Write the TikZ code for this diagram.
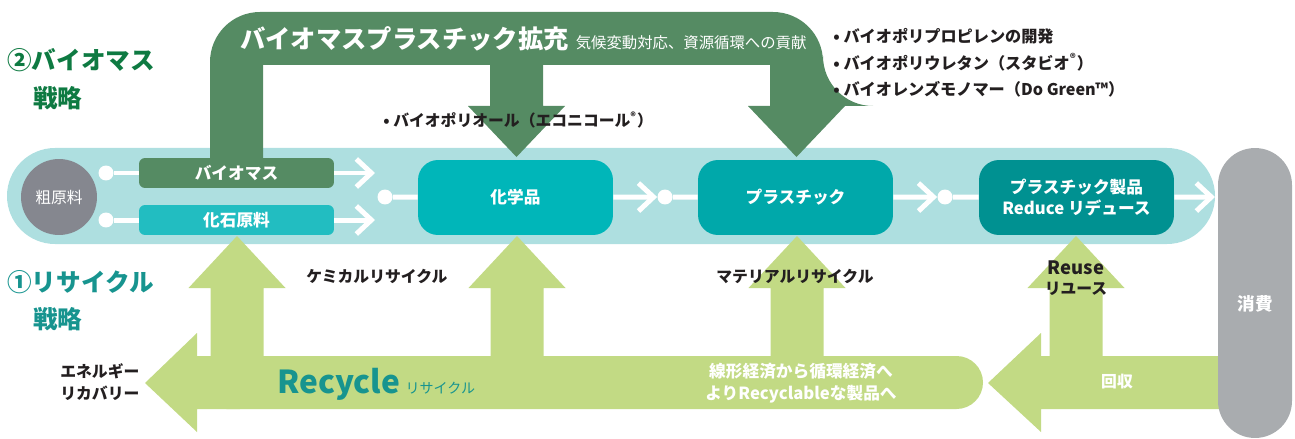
\documentclass[tikz,border=0pt]{standalone}
\usepackage{fontspec}
\setmainfont{Noto Sans CJK JP}
\usetikzlibrary{arrows.meta,positioning}

\definecolor{bandblue}{HTML}{AEDFE0}
\definecolor{biogreen}{HTML}{558B63}
\definecolor{fossilteal}{HTML}{22BDC1}
\definecolor{chemteal}{HTML}{00B6B9}
\definecolor{plasteal}{HTML}{00A8AA}
\definecolor{prodteal}{HTML}{009191}
\definecolor{recgreen}{HTML}{C2DA84}
\definecolor{consgray}{HTML}{A9ACAF}
\definecolor{rawgray}{HTML}{85878F}
\definecolor{headgreen}{HTML}{0E7A42}
\definecolor{headteal}{HTML}{17948F}
\definecolor{inkblack}{HTML}{231F20}

\begin{document}
\begin{tikzpicture}[
    x=0.02cm, y=-0.02cm,
    every node/.style={inner sep=0pt},
    box/.style={rounded corners=0.4cm, minimum width=3.9cm, minimum height=1.5cm, align=center, text=white, font=\bfseries\fontsize{9.5}{11.5}\selectfont},
    slim/.style={box, rounded corners=0.12cm, minimum height=0.6cm},
    dot/.style={circle, fill=white, minimum size=0.3cm},
    wline/.style={white, line width=1mm},
    warrow/.style={wline, -{Straight Barb[length=3mm,width=5.6mm]}},
    note/.style={text=inkblack, font=\bfseries\fontsize{9}{11}\selectfont},
    head/.style={anchor=base west, font=\bfseries\fontsize{14}{16}\selectfont}
  ]
    \useasboundingbox (0,0) rectangle (1295,439);

    % flow band
    \fill[bandblue, rounded corners=0.96cm] (7,148) rectangle (1215,244);

    % recycle arrows
    \fill[recgreen, rounded corners=0.53cm] (200,356) rectangle (983,409);
    \fill[recgreen] (145,383) -- (197,333) -- (197,356) -- (240,356) -- (240,409) -- (197,409) -- (197,432) -- cycle;
    \fill[recgreen] (988,383) -- (1041,333) -- (1041,356) -- (1225,356) -- (1225,409) -- (1041,409) -- (1041,432) -- cycle;
    \foreach \cx in {237,517,797,1076}
      \fill[recgreen] (\cx-26.5,360) -- (\cx-26.5,288) -- (\cx-48.5,288) -- (\cx,236)
        -- (\cx+48.5,288) -- (\cx+26.5,288) -- (\cx+26.5,360) -- cycle;

    % biomass plastics arrow
    \fill[biogreen] (210,160) [rounded corners=1cm] -- (210,12) -- (823,12) -- (823,106) [sharp corners]
      -- (845,106) -- (796.5,157) -- (748,106) -- (770,106) -- (770,65) -- (543,65) -- (543,106)
      -- (565,106) -- (516.5,157) -- (468,106) -- (490,106) -- (490,65) -- (263,65) -- (263,160) -- cycle;

    % consumption
    \node[fill=consgray, rounded corners=0.74cm, minimum width=1.48cm, minimum height=5.8cm] (cons) at (1255,293) {};
    \node[text=white, font=\bfseries\fontsize{10}{12}\selectfont] (constext) at (1255,304) {消費};

    % nodes on the band
    \node[circle, fill=rawgray, minimum size=1.52cm, text=white, font=\fontsize{9}{11}\selectfont] (raw) at (59,197) {粗原料};
    \node[slim, fill=biogreen] (bio) at (236.5,173) {バイオマス};
    \node[slim, fill=fossilteal] (fossil) at (236.5,220) {化石原料};
    \node[box, fill=chemteal] (chem) at (515.5,197.5) {化学品};
    \node[box, fill=plasteal] (plastic) at (795.5,197.5) {プラスチック};
    \node[box, fill=prodteal] (product) at (1076.5,197.5) {プラスチック製品\\Reduce リデュース};

    \node[dot] (d1) at (106,173) {};
    \node[dot] (d2) at (106,220) {};
    \node[dot] (d3) at (385,197) {};
    \node[dot] (d4) at (665,197) {};
    \node[dot] (d5) at (945,197) {};
    \coordinate (e1) at (375,173);
    \coordinate (e2) at (375,220);
    \coordinate (e3) at (1215,197);

    \draw[wline] (d1) -- (bio);
    \draw[wline] (d2) -- (fossil);
    \draw[warrow] (bio) -- (e1);
    \draw[warrow] (fossil) -- (e2);
    \draw[wline] (d3) -- (chem);
    \draw[warrow] (chem) -- (d4);
    \draw[wline] (d4) -- (plastic);
    \draw[warrow] (plastic) -- (d5);
    \draw[wline] (d5) -- (product);
    \draw[warrow] (product) -- (e3);

    % titles and labels
    \node[anchor=base west, text=white, font=\bfseries\fontsize{14.4}{16}\selectfont] (bptitle) at (240,49)
      {バイオマスプラスチック拡充\hspace{4pt}{\mdseries\fontsize{8.75}{10}\selectfont 気候変動対応、資源循環への貢献}};
    \node[note, anchor=west, align=left, font=\bfseries\fontsize{9.2}{15}\selectfont] (biolist) at (833,63)
      {• バイオポリプロピレンの開発\\• バイオポリウレタン（スタビオ\textsuperscript{®}）\\• バイオレンズモノマー（Do Green™）};
    \node[note, anchor=base west] (polyol) at (383,127) {• バイオポリオール（エコニコール\textsuperscript{®}）};

    \node[head, text=headgreen] (biohead) at (7,70) {②バイオマス};
    \node[head, text=headgreen] (biohead2) at (33,108) {戦略};
    \node[head, text=headteal] (rechead) at (7,291) {①リサイクル};
    \node[head, text=headteal] (rechead2) at (33,328) {戦略};

    \node[note] (chemrec) at (377,276) {ケミカルリサイクル};
    \node[note] (matrec) at (795,276) {マテリアルリサイクル};
    \node[note, align=center] (reuse) at (1076,278) {{\fontsize{10.5}{12}\selectfont Reuse}\\リユース};
    \node[note, anchor=west, align=left, font=\bfseries\fontsize{9}{12.5}\selectfont] (energy) at (60,382) {エネルギー\\リカバリー};
    \node[anchor=base west, text=headteal, font=\bfseries\fontsize{18}{20}\selectfont] (recycle) at (277,393)
      {Recycle\hspace{3pt}{\mdseries\fontsize{8}{10}\selectfont リサイクル}};
    \node[text=white, align=center, font=\bfseries\fontsize{9.5}{12.5}\selectfont] (linear) at (801,383)
      {線形経済から循環経済へ\\よりRecyclableな製品へ};
    \node[text=white, font=\bfseries\fontsize{9}{11}\selectfont] (collect) at (1117,382) {回収};
  \end{tikzpicture}
\end{document}
